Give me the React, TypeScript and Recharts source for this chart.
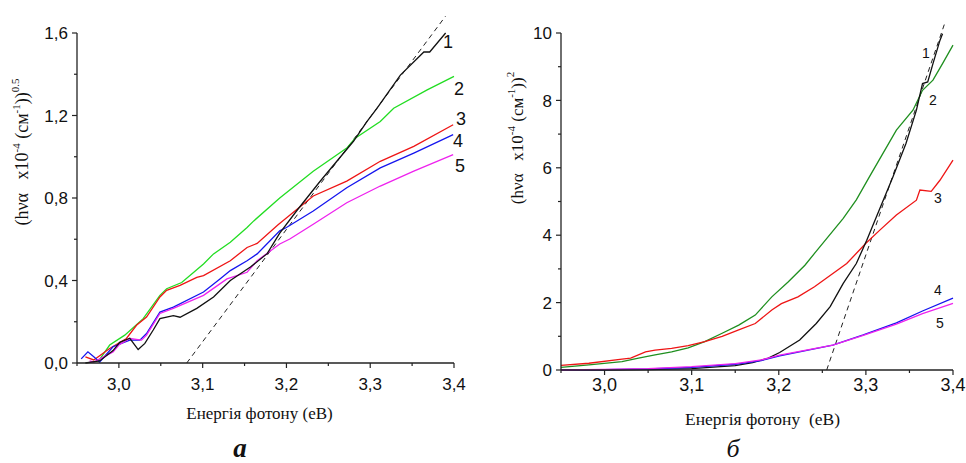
import React from 'react';
import { LineChart, Line, XAxis, YAxis, ReferenceLine } from 'recharts';

// ---------- Panel а : (hνα)^0.5 ----------
const aX1 = [2.960, 2.977, 2.993, 3.001, 3.013, 3.023, 3.031, 3.041, 3.049, 3.065, 3.073, 3.093, 3.113, 3.133, 3.157, 3.177, 3.192, 3.212, 3.240, 3.280, 3.296, 3.308, 3.336, 3.364, 3.371, 3.390];
const aY1 = [0.0, 0.01, 0.06, 0.10, 0.12, 0.065, 0.095, 0.16, 0.215, 0.23, 0.222, 0.265, 0.32, 0.40, 0.465, 0.53, 0.63, 0.737, 0.88, 1.075, 1.17, 1.235, 1.396, 1.508, 1.508, 1.60];
const aX2 = [2.975, 2.989, 3.007, 3.029, 3.049, 3.057, 3.075, 3.101, 3.113, 3.133, 3.153, 3.161, 3.192, 3.232, 3.272, 3.282, 3.312, 3.328, 3.368, 3.400];
const aY2 = [0.005, 0.087, 0.135, 0.215, 0.328, 0.36, 0.39, 0.48, 0.529, 0.585, 0.657, 0.689, 0.80, 0.93, 1.042, 1.09, 1.171, 1.235, 1.324, 1.39];
const aX3 = [2.960, 2.970, 2.989, 3.009, 3.021, 3.033, 3.049, 3.057, 3.073, 3.093, 3.101, 3.133, 3.153, 3.165, 3.190, 3.232, 3.272, 3.312, 3.352, 3.399];
const aY3 = [0.03, 0.015, 0.07, 0.119, 0.183, 0.223, 0.32, 0.352, 0.376, 0.415, 0.424, 0.496, 0.56, 0.58, 0.67, 0.81, 0.882, 0.978, 1.05, 1.155];
const aX4 = [2.955, 2.963, 2.970, 2.977, 2.993, 3.000, 3.013, 3.025, 3.033, 3.049, 3.065, 3.101, 3.121, 3.133, 3.153, 3.165, 3.192, 3.200, 3.232, 3.272, 3.312, 3.352, 3.399];
const aY4 = [0.02, 0.054, 0.03, 0.005, 0.079, 0.09, 0.111, 0.111, 0.143, 0.247, 0.271, 0.344, 0.408, 0.448, 0.496, 0.529, 0.641, 0.657, 0.737, 0.85, 0.946, 1.018, 1.107];
const aX5 = [2.965, 2.970, 2.993, 3.000, 3.013, 3.027, 3.033, 3.049, 3.065, 3.101, 3.129, 3.153, 3.165, 3.192, 3.204, 3.232, 3.272, 3.312, 3.352, 3.399];
const aY5 = [0.01, 0.005, 0.054, 0.087, 0.119, 0.111, 0.135, 0.24, 0.265, 0.328, 0.408, 0.44, 0.496, 0.577, 0.601, 0.673, 0.777, 0.858, 0.93, 1.01];
const aFitX = [3.081, 3.390];
const aFitY = [0, 1.682];

// ---------- Panel б : (hνα)^2 ----------
const bX1 = [2.95, 3.00, 3.05, 3.10, 3.15, 3.17, 3.188, 3.201, 3.224, 3.243, 3.259, 3.274, 3.289, 3.301, 3.312, 3.331, 3.346, 3.358, 3.365, 3.371, 3.377, 3.385, 3.388];
const bY1 = [0.0, 0.0, 0.01, 0.04, 0.13, 0.22, 0.35, 0.52, 0.89, 1.38, 1.88, 2.57, 3.16, 3.85, 4.54, 5.73, 6.72, 7.71, 8.5, 8.55, 9.09, 9.78, 9.98];
const bX2 = [2.95, 2.982, 3.02, 3.039, 3.058, 3.077, 3.096, 3.115, 3.135, 3.154, 3.173, 3.192, 3.211, 3.23, 3.241, 3.274, 3.289, 3.304, 3.335, 3.354, 3.365, 3.377, 3.388, 3.40];
const bY2 = [0.08, 0.15, 0.25, 0.35, 0.45, 0.54, 0.66, 0.84, 1.09, 1.33, 1.63, 2.17, 2.62, 3.11, 3.46, 4.5, 5.05, 5.73, 7.12, 7.71, 8.3, 8.6, 9.09, 9.64];
const bX3 = [2.95, 2.982, 3.02, 3.03, 3.047, 3.058, 3.077, 3.096, 3.115, 3.135, 3.154, 3.173, 3.192, 3.203, 3.222, 3.241, 3.278, 3.30, 3.316, 3.335, 3.358, 3.362, 3.375, 3.385, 3.40];
const bY3 = [0.14, 0.2, 0.32, 0.35, 0.54, 0.59, 0.64, 0.72, 0.84, 1.0, 1.19, 1.38, 1.78, 1.97, 2.17, 2.47, 3.16, 3.76, 4.15, 4.6, 5.04, 5.34, 5.3, 5.63, 6.23];
const bX45 = [2.95, 3.0, 3.05, 3.10, 3.15, 3.18, 3.201, 3.262, 3.297, 3.335, 3.365, 3.40];
const bY4 = [0.0, 0.01, 0.03, 0.08, 0.17, 0.28, 0.42, 0.74, 1.04, 1.4, 1.75, 2.13];
const bY5 = [0.0, 0.02, 0.04, 0.1, 0.19, 0.3, 0.44, 0.74, 1.03, 1.36, 1.67, 1.98];
const bFitX = [3.255, 3.390];
const bFitY = [0, 10.25];

// ---------- ticks ----------
const xMajor = [3.0, 3.1, 3.2, 3.3, 3.4];
const xMinor = [2.95, 3.05, 3.15, 3.25, 3.35];
const aYMajor = [0, 0.4, 0.8, 1.2, 1.6];
const aYMinor = [0.2, 0.6, 1.0, 1.4];
const bYMajor = [0, 2, 4, 6, 8, 10];
const bYMinor = [1, 3, 5, 7, 9];
const seriesNames = ['1', '2', '3', '4', '5'];

const zip = (xs: number[], ys: number[]) => xs.map((x, i) => ({ x, y: ys[i] }));
const isIn = (list: number[], v: number) => list.some((m) => Math.abs(m - v) < 1e-6);
const comma = (v: number, d: number) => v.toFixed(d).replace('.', ',');

const AX = '#222';
const TICKFONT = '"Liberation Sans", Arial, sans-serif';
const SERIF = '"Liberation Serif", "Times New Roman", serif';

const makeYTick = (majors: number[], dec: number) => (p: any) => {
  const { x, y, payload } = p;
  const v = payload.value;
  const major = isIn(majors, v);
  return (
    <g>
      <line x1={x} x2={x - (major ? 5 : 3)} y1={y} y2={y} stroke={AX} strokeWidth={1.2} />
      {major && (
        <text x={x - 9} y={y} dy="0.36em" textAnchor="end" fontFamily={TICKFONT} fontSize={17} fill="#111">
          {comma(v, dec)}
        </text>
      )}
    </g>
  );
};

const makeXTick = (off: number, fs: number) => (p: any) => {
  const { x, y, payload } = p;
  const v = payload.value;
  const major = isIn(xMajor, v);
  return (
    <g>
      <line x1={x} x2={x} y1={y} y2={y + (major ? 5 : 3)} stroke={AX} strokeWidth={1.2} />
      {major && (
        <text x={x} y={y + off} textAnchor="middle" fontFamily={TICKFONT} fontSize={fs} fill="#111">
          {comma(v, 1)}
        </text>
      )}
    </g>
  );
};

const aColors = ['#111111', '#22dd22', '#ee1515', '#1515ee', '#ee22ee'];
const bColors = ['#111111', '#1f8f1f', '#ee1515', '#1515ee', '#ee22ee'];

const aData = [zip(aX1, aY1), zip(aX2, aY2), zip(aX3, aY3), zip(aX4, aY4), zip(aX5, aY5)];
const bData = [zip(bX1, bY1), zip(bX2, bY2), zip(bX3, bY3), zip(bX45, bY4), zip(bX45, bY5)];

const drawOrderA = [1, 2, 3, 4, 0];
const drawOrderB = [1, 2, 0, 3, 4];

export default function App() {
  return (
    <div style={{ position: 'absolute', left: 0, top: 0, width: 966, height: 463, background: '#fff', overflow: 'hidden' }}>
      <div style={{ position: 'absolute', left: 0, top: 0 }}>
        <LineChart width={480} height={463} margin={{ top: 33, right: 26, bottom: 70, left: 0 }}>
          <XAxis
            dataKey="x"
            type="number"
            domain={[2.95, 3.4]}
            ticks={[...xMinor, ...xMajor].sort((a, b) => a - b)}
            interval={0}
            height={30}
            tickSize={0}
            tickMargin={0}
            tickLine={false}
            axisLine={{ stroke: AX, strokeWidth: 1.3 }}
            tick={makeXTick(27, 17)}
          />
          <YAxis
            type="number"
            domain={[0, 1.6]}
            ticks={[...aYMinor, ...aYMajor].sort((a, b) => a - b)}
            interval={0}
            width={77}
            tickSize={0}
            tickMargin={0}
            tickLine={false}
            axisLine={{ stroke: AX, strokeWidth: 1.3 }}
            tick={makeYTick(aYMajor, 1)}
          />
          <ReferenceLine
            segment={[{ x: aFitX[0], y: aFitY[0] }, { x: aFitX[1], y: aFitY[1] }]}
            ifOverflow="visible"
            stroke="#222"
            strokeWidth={1}
            strokeDasharray="5 4"
          />
          {drawOrderA.map((i) => (
            <Line
              key={i}
              data={aData[i]}
              dataKey="y"
              name={seriesNames[i]}
              type="linear"
              dot={false}
              stroke={aColors[i]}
              strokeWidth={1.3}
              isAnimationActive={false}
            />
          ))}
        </LineChart>
      </div>
      <div style={{ position: 'absolute', left: 480, top: 0 }}>
        <LineChart width={486} height={463} margin={{ top: 33, right: 13, bottom: 63, left: 0 }}>
          <XAxis
            dataKey="x"
            type="number"
            domain={[2.95, 3.4]}
            ticks={[...xMinor, ...xMajor].sort((a, b) => a - b)}
            interval={0}
            height={30}
            tickSize={0}
            tickMargin={0}
            tickLine={false}
            axisLine={{ stroke: AX, strokeWidth: 1.3 }}
            tick={makeXTick(21, 18)}
          />
          <YAxis
            type="number"
            domain={[0, 10]}
            ticks={[...bYMinor, ...bYMajor].sort((a, b) => a - b)}
            interval={0}
            width={81}
            tickSize={0}
            tickMargin={0}
            tickLine={false}
            axisLine={{ stroke: AX, strokeWidth: 1.3 }}
            tick={makeYTick(bYMajor, 0)}
          />
          <ReferenceLine
            segment={[{ x: bFitX[0], y: bFitY[0] }, { x: bFitX[1], y: bFitY[1] }]}
            ifOverflow="visible"
            stroke="#222"
            strokeWidth={1}
            strokeDasharray="5 4"
          />
          {drawOrderB.map((i) => (
            <Line
              key={i}
              data={bData[i]}
              dataKey="y"
              name={seriesNames[i]}
              type="linear"
              dot={false}
              stroke={bColors[i]}
              strokeWidth={1.3}
              isAnimationActive={false}
            />
          ))}
        </LineChart>
      </div>
      <svg width={966} height={463} style={{ position: 'absolute', left: 0, top: 0, pointerEvents: 'none' }}>
        {/* curve labels panel а */}
        <g fontFamily={TICKFONT} fontSize={18} fill="#111" textAnchor="middle">
          <text x={448} y={48}>{seriesNames[0]}</text>
          <text x={459} y={95}>{seriesNames[1]}</text>
          <text x={461} y={125}>{seriesNames[2]}</text>
          <text x={458} y={147}>{seriesNames[3]}</text>
          <text x={460} y={172}>{seriesNames[4]}</text>
        </g>
        {/* curve labels panel б */}
        <g fontFamily={TICKFONT} fontSize={14} fill="#111" textAnchor="middle">
          <text x={926} y={58}>{seriesNames[0]}</text>
          <text x={933} y={105}>{seriesNames[1]}</text>
          <text x={938} y={203}>{seriesNames[2]}</text>
          <text x={938} y={295}>{seriesNames[3]}</text>
          <text x={940} y={328}>{seriesNames[4]}</text>
        </g>
        {/* y-axis titles */}
        <text transform="rotate(-90 28 152)" x={28} y={152} textAnchor="middle" fontFamily={SERIF} fontSize={18} fill="#111">
          <tspan>(hνα</tspan>
          <tspan>{'\u00a0\u00a0\u00a0'}x10</tspan>
          <tspan dy={-8} fontSize={11}>-4</tspan>
          <tspan dy={8}>{'\u00a0'}(см</tspan>
          <tspan dy={-8} fontSize={11}>-1</tspan>
          <tspan dy={8}>))</tspan>
          <tspan dy={-9} fontSize={11}>0.5</tspan>
        </text>
        <text transform="rotate(-90 523 138)" x={523} y={138} textAnchor="middle" fontFamily={SERIF} fontSize={17} fill="#111">
          <tspan>(hνα</tspan>
          <tspan>{'\u00a0\u00a0\u00a0'}x10</tspan>
          <tspan dy={-8} fontSize={11}>-4</tspan>
          <tspan dy={8}>{'\u00a0'}(см</tspan>
          <tspan dy={-8} fontSize={11}>-1</tspan>
          <tspan dy={8}>))</tspan>
          <tspan dy={-9} fontSize={11}>2</tspan>
        </text>
        {/* x-axis titles */}
        <text x={259.5} y={419} textAnchor="middle" fontFamily={SERIF} fontSize={17} fill="#111">Енергія фотону (еВ)</text>
        <text x={762.5} y={425} textAnchor="middle" fontFamily={SERIF} fontSize={17.5} fill="#111">Енергія фотону{'\u00a0\u00a0'}(еВ)</text>
        {/* panel letters */}
        <text x={240} y={457} textAnchor="middle" fontFamily={SERIF} fontSize={27} fontWeight="bold" fontStyle="italic" fill="#111">а</text>
        <text x={733} y={457} textAnchor="middle" fontFamily={SERIF} fontSize={26} fontStyle="italic" fill="#111">б</text>
      </svg>
    </div>
  );
}
